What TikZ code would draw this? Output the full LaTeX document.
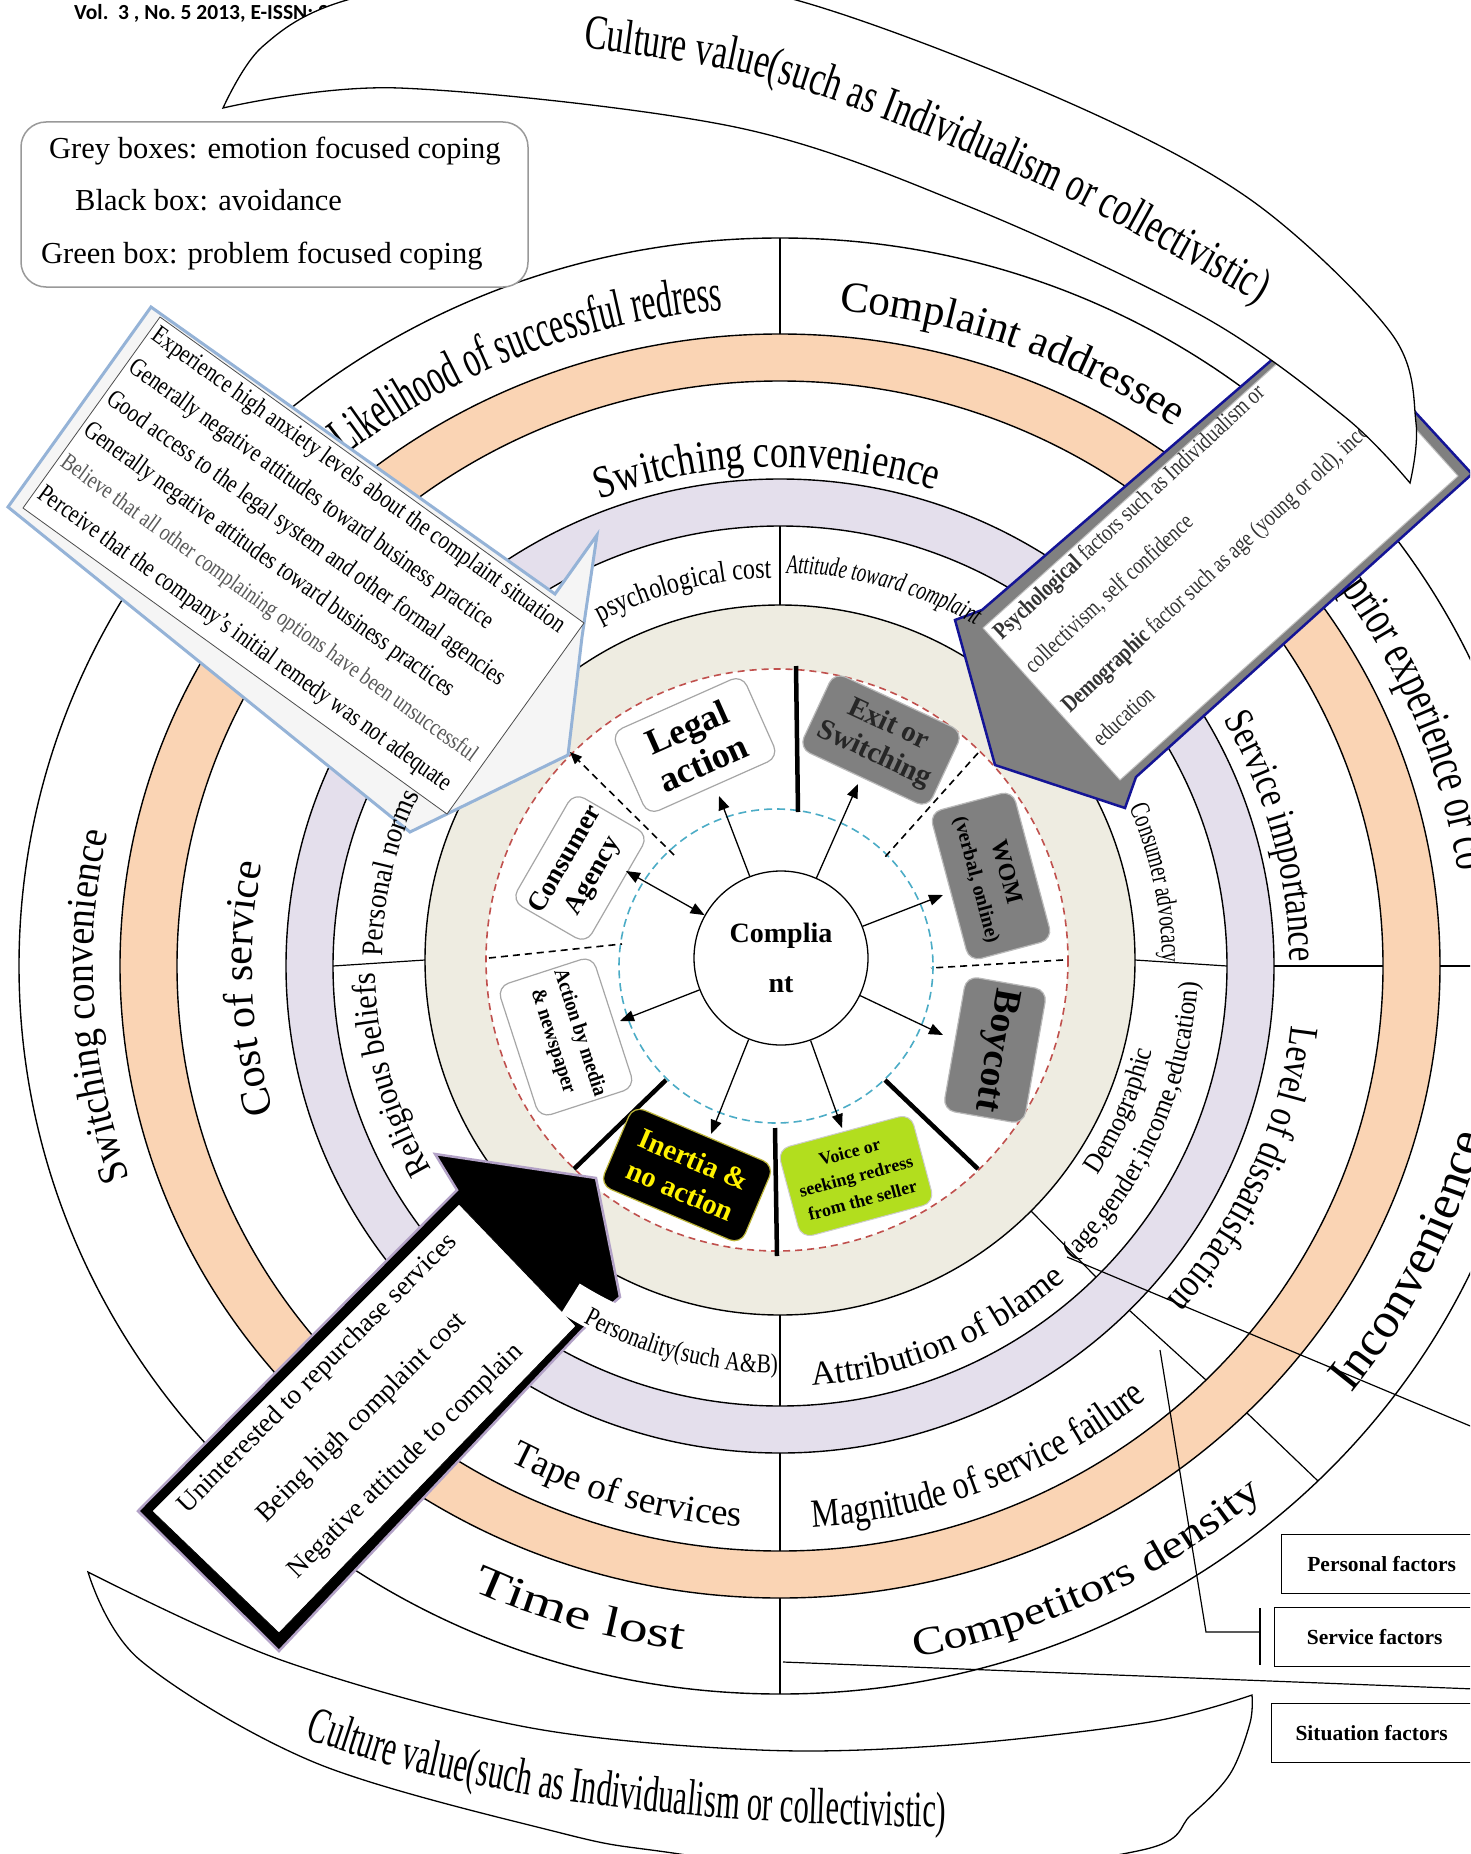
\documentclass[tikz,border=0pt]{standalone}
\usepackage{fontspec}
\setmainfont{Liberation Serif}
\newfontfamily\sr{Liberation Serif}
\newfontfamily\srA[FakeStretch=0.6]{Liberation Serif}
\newfontfamily\srB[FakeStretch=0.7]{Liberation Serif}
\newfontfamily\srC[FakeStretch=0.8]{Liberation Serif}
\newfontfamily\srD[FakeStretch=0.9]{Liberation Serif}
\newfontfamily\srE[FakeStretch=1.2]{Liberation Serif}
\newfontfamily\srF[FakeStretch=1.35]{Liberation Serif}
\newfontfamily\carl{Carlito}
\usetikzlibrary{arrows.meta,decorations.text}
\newcommand\fsz[1]{\fontsize{#1}{#1}\selectfont}
% cx cy a b t1 t2 align font text
\newcommand\arctext[9]{\path[decorate,decoration={text along path,text align=#7,text={|#8|#9}}] plot[domain=#5:#6,samples=90,variable=\t] ({#1+#3*cos(\t)},{#2-#4*sin(\t)});}
% white annular sector: cx cy r1 r2 t1 t2
\newcommand\whitesector[6]{\fill[white] plot[domain=#5:#6,samples=30,variable=\t] ({#1+#3*cos(\t)},{#2-#3*sin(\t)}) -- plot[domain=#6:#5,samples=30,variable=\t] ({#1+#4*cos(\t)},{#2-#4*sin(\t)}) -- cycle;}
\definecolor{peach}{RGB}{250,212,180}
\definecolor{lav}{RGB}{228,223,236}
\definecolor{beige}{RGB}{238,236,225}
\definecolor{reddash}{RGB}{192,80,77}
\definecolor{bluedash}{RGB}{75,172,198}
\definecolor{boxgrey}{RGB}{128,128,128}
\definecolor{lime}{RGB}{178,222,30}
\definecolor{navy}{RGB}{20,20,150}
\definecolor{callblue}{RGB}{149,179,215}
\definecolor{lavb}{RGB}{179,162,199}
\begin{document}
\begin{tikzpicture}[x=1pt,y=-1pt,
  ring/.style={line width=1.4pt},
  div/.style={line width=1.2pt},
  arr/.style={line width=1.3pt,-{Triangle[length=14pt,width=11pt]}},
  darr/.style={line width=1.3pt,{Triangle[length=14pt,width=11pt]}-{Triangle[length=14pt,width=11pt]}},
  whitebox/.style={draw=gray!70,fill=white,line width=1.2pt,rounded corners=12pt,inner sep=0pt},
  greybox/.style={draw=gray!55,fill=boxgrey,line width=1.2pt,rounded corners=12pt,inner sep=0pt},
  thickdiv/.style={line width=4.5pt},
  dashdiv/.style={line width=1.6pt,dash pattern=on 7pt off 5pt},
  fbox/.style={draw,line width=1.3pt,minimum width=200pt,minimum height=59pt,anchor=north west,font=\sr\bfseries\fsz{21.5}},
  plain/.style={inner sep=0pt}]
\useasboundingbox (0,0) rectangle (1470,1854);
\clip (0,0) rectangle (1470,1854);
\fill[white] (0,0) rectangle (1470,1854);

% header (partly covered by the top arrow)
\node[plain,anchor=base west,font=\carl\bfseries\fsz{21.5}] (hdr) at (74,20) {Vol.\ \ 3 , No.\ 5 2013, E-ISSN: 22};

% rings
\filldraw[ring,fill=white] (780,966) ellipse [x radius=761, y radius=728];
\filldraw[ring,fill=peach] (780,966) ellipse [x radius=660, y radius=632];
\filldraw[ring,fill=white] (780,966) ellipse [x radius=603, y radius=585];
\filldraw[ring,fill=lav] (780,966) ellipse [x radius=494, y radius=487];
\filldraw[ring,fill=white] (780,966) ellipse [x radius=447, y radius=440];
\filldraw[ring,fill=beige] (780,960) circle [radius=355];

% ring dividers
\draw[div] (780,605)--(780,526);
\draw[div] (1135,960)--(1227,966);
\draw[div] (1031,1211)--(1096,1277);
\draw[div] (780,1315)--(780,1406);
\draw[div] (425,960)--(333,966);
\draw[div] (1274,966)--(1383,966);
\draw[div] (1129,1310)--(1206,1380);
\draw[div] (780,1453)--(780,1551);
\draw[div] (780,334)--(780,238);
\draw[div] (1440,966)--(1541,966);
\draw[div] (1247,1413)--(1318,1481);
\draw[div] (780,1598)--(780,1694);

% outer ring labels
\arctext{780}{966}{688}{658}{134}{90}{center}{\srA\fsz{53}}{Likelihood of successful redress}
\arctext{780}{966}{688}{658}{88}{52}{center}{\sr\fsz{43}}{Complaint addressee}
\arctext{780}{966}{685}{656}{35}{-30}{left}{\srB\fsz{50}}{prior experience or co}
\arctext{780}{966}{725}{694}{-38}{10}{left}{\sr\fsz{50}}{Inconvenience}
\arctext{780}{966}{735}{703}{-92}{-36}{center}{\srE\fsz{40}}{Competitors density}
\arctext{780}{966}{722}{690}{-124}{-89}{center}{\srF\fsz{43}}{Time lost}
\arctext{780}{966}{687}{657}{205}{162}{center}{\srD\fsz{42}}{Switching convenience}
% middle ring labels
\arctext{780}{966}{512}{499}{118}{65}{center}{\srC\fsz{46}}{Switching convenience}
\arctext{780}{966}{510}{500}{38}{-8}{center}{\srC\fsz{41}}{Service importance}
\arctext{780}{966}{515}{505}{3}{-51}{center}{\srC\fsz{41}}{Level of dissatisfaction}
\arctext{780}{966}{575}{562}{-95}{-42}{center}{\srC\fsz{40}}{Magnitude of service failure}
\arctext{780}{966}{575}{562}{-124}{-88}{center}{\sr\fsz{37}}{Tape of services}
\arctext{780}{966}{528}{520}{200}{165}{center}{\sr\fsz{42}}{Cost of service}
% inner ring labels
\arctext{780}{963}{385}{385}{123}{86}{center}{\srC\fsz{30}}{psychological cost}
\arctext{780}{963}{382}{382}{30}{-6}{center}{\srB\fsz{28}}{Consumer advocacy}
\arctext{780}{963}{382}{382}{-44}{-3}{center}{\srD\fsz{28}}{Demographic}
\arctext{780}{963}{418}{418}{-47}{-1}{center}{\srD\fsz{28}}{(age,gender,income,education)}
\arctext{780}{963}{430}{424}{-95}{-39}{center}{\sr\fsz{34}}{Attribution of blame}
\arctext{780}{963}{405}{405}{216}{176}{center}{\srD\fsz{34}}{Religious beliefs}

% inner disc
\filldraw[fill=white,draw=reddash,dashdiv] (777,960) circle [radius=291];
\draw[draw=bluedash,line width=1.6pt,dash pattern=on 8pt off 5pt] (776,966) circle [radius=157];
\draw[thickdiv] (796,666)--(798,812);
\draw[dashdiv] (978,753)--(885,857);
\draw[dashdiv] (1063,960)--(931,968);
\draw[thickdiv] (978,1169)--(885,1080);
\draw[thickdiv] (775,1128)--(777,1256);
\draw[thickdiv] (666,1080)--(574,1169);
\draw[dashdiv] (489,958)--(622,944);
\draw[dashdiv,-{Triangle[length=12pt,width=10pt]}] (674,855)--(570,752);

% coping boxes
\node[whitebox,minimum width=143pt,minimum height=90pt,rotate=24,align=center,font=\sr\bfseries\fontsize{36}{39}\selectfont] (legal) at (695,745) {Legal\\action};
\node[greybox,minimum width=142pt,minimum height=84pt,rotate=-25,align=center,text=black!85,font=\sr\bfseries\fontsize{29}{33}\selectfont] (exit) at (881,740) {Exit or\\Switching};
\node[greybox,minimum width=154pt,minimum height=86pt,rotate=-75,align=center,font=\sr\bfseries\fontsize{20}{30}\selectfont] (wom) at (991,876) {{\fsz{24}WOM}\\(verbal, online)};
\node[greybox,minimum width=136pt,minimum height=82pt,rotate=-100,font=\sr\bfseries\fsz{38}] (boycott) at (995,1050) {Boycott};
\node[draw=gray!40,fill=lime,line width=1pt,rounded corners=12pt,minimum width=138pt,minimum height=92pt,rotate=15,align=center,inner sep=0pt,font=\sr\bfseries\fontsize{18}{25}\selectfont] (voice) at (856,1176) {Voice or\\seeking redress\\from the seller};
\node[draw=yellow!70!black,fill=black,line width=1.2pt,rounded corners=12pt,minimum width=153pt,minimum height=86pt,rotate=-23,align=center,inner sep=0pt,text=yellow,font=\sr\bfseries\fontsize{29}{34}\selectfont] (inertia) at (687,1175) {Inertia \&\\no action};
\node[whitebox,minimum width=138pt,minimum height=100pt,rotate=-72,align=center,font=\srD\bfseries\fontsize{21}{28}\selectfont] (media) at (566,1037) {Action by media\\\& newspaper};
\node[whitebox,minimum width=125pt,minimum height=86pt,rotate=60,align=center,font=\sr\bfseries\fontsize{27}{32}\selectfont] (agency) at (580,868) {Consumer\\Agency};

% centre
\node[circle,draw,line width=1.3pt,fill=white,minimum size=174pt,inner sep=0pt,align=center,font=\sr\bfseries\fontsize{28}{50}\selectfont] (cc) at (781,958) {Complia\\nt};
\coordinate (tLegal) at (719,796);
\coordinate (tExit) at (858,784);
\coordinate (tWom) at (943,895);
\coordinate (tBoy) at (943,1035);
\coordinate (tVoice) at (842,1128);
\coordinate (tInert) at (711,1134);
\coordinate (tMedia) at (620,1021);
\coordinate (tAgency) at (626,871);
\draw[arr] (cc)--(tLegal);
\draw[arr] (cc)--(tExit);
\draw[arr] (cc)--(tWom);
\draw[arr] (cc)--(tBoy);
\draw[arr] (cc)--(tVoice);
\draw[arr] (cc)--(tInert);
\draw[arr] (cc)--(tMedia);
\draw[darr] (cc)--(tAgency);

% factor connectors and boxes
\coordinate (pa) at (1067,1257); \coordinate (pb) at (1475,1428);
\draw[line width=1.2pt] (pa)--(pb);
\coordinate (sa) at (1160,1350); \coordinate (sb) at (1206,1632); \coordinate (sc) at (1260,1632);
\draw[line width=1.2pt] (sa)--(sb)--(sc);
\coordinate (sd) at (1260,1608); \coordinate (se) at (1260,1665);
\draw[line width=1.2pt] (sd)--(se);
\coordinate (ta) at (783,1662); \coordinate (tb) at (1475,1689);
\draw[line width=1.2pt] (ta)--(tb);
\node[fbox] (pf) at (1281,1534) {Personal factors};
\node[fbox] (sf) at (1274,1607) {Service factors};
\node[fbox] (tf) at (1271,1703) {Situation factors};

% left callout
\draw[fill=gray!8,draw=callblue,line width=3pt,line join=miter] (151,307)--(555,594)--(597,535)--(582,637)--(568,755)--(410,832)--(8,507)--cycle;
\draw[fill=white,draw=gray!60!black,line width=0.8pt] (160,317)--(584,623)--(447,814)--(23,508)--cycle;
\node[rotate=-35.8,anchor=north west,inner sep=5pt,align=left,font=\srC\fontsize{26}{39}\selectfont] (lefttext) at (160,317) {Experience high anxiety levels about the complaint situation\\Generally negative attitudes toward business practice\\Good access to the legal system and other formal agencies\\Generally negative attitudes toward business practices\\{\color{black!65}\fontsize{24}{39}\selectfont Believe that all other complaining options have been unsuccessful}\\Perceive that the company’s initial remedy was not adequate};

% right callout
\draw[fill=boxgrey,draw=navy,line width=2.5pt,line join=miter] (1325,314)--(1472,474)--(1136,777)--(1125,808)--(995,765)--(955,620)--(982,610)--cycle;
\draw[fill=white,draw=gray!50,line width=1pt] (1321,324)--(1458,476)--(1120,780)--(983,628)--cycle;
\node[rotate=43,anchor=north west,inner sep=5pt,align=left,text=black!80,font=\srC\fontsize{24}{46}\selectfont] (righttext) at (983,628) {\textbf{Psychological} factors such as Individualism or\\collectivism, self confidence\\[8pt]\textbf{Demographic} factor such as age (young or old), income,\\education};

% black callout
\draw[fill=black,draw=lavb,line width=2.5pt,line join=miter] (138,1511)--(457,1190)--(435,1154)--(596,1178)--(620,1297)--(582,1330)--(279,1651)--cycle;
\draw[fill=white,draw=black,line width=0.8pt] (152,1511)--(459,1204)--(576,1326)--(279,1633)--cycle;
\node[rotate=45,align=center,font=\sr\fontsize{27}{62}\selectfont] (blacktext) at (362,1418) {Uninterested to repurchase services\\Being high complaint cost\\Negative attitude to complain};

% labels lying in front of the callouts
\whitesector{780}{963}{378}{413}{-122}{-100}
\arctext{780}{963}{410}{410}{-125}{-84}{center}{\srC\fsz{27}}{Personality(such A{\&}B)}
\arctext{780}{963}{390}{390}{93}{56}{center}{\srB\itshape\fsz{27}}{Attitude toward complaint}
\arctext{780}{963}{398}{398}{184}{150}{center}{\srD\fsz{30}}{Personal norms}

% top curved arrow
\draw[fill=white,line width=1.3pt] plot[smooth,tension=0.55] coordinates {(223,108) (262,47) (347,0) (560,-40) (796,0) (1063,100) (1251,200) (1391,333) (1416,423) (1410,483)} -- plot[smooth,tension=0.55] coordinates {(1410,483) (1345,417) (1204,317) (970,207) (735,127) (399,88) (223,108)} -- cycle;
\path[decorate,decoration={text along path,text align=left,text={|\srB\fsz{49}|Culture value(such as Individualism or collectivistic)}}] plot[smooth] coordinates {(583,48) (740,72) (890,121) (1059,194) (1170,253) (1290,322) (1380,390)};

% bottom curved arrow
\draw[fill=white,line width=1.3pt] plot[smooth,tension=0.55] coordinates {(88,1572) (140,1660) (316,1763) (561,1833) (666,1852) (900,1880) (1142,1850) (1191,1815) (1230,1774) (1250,1723) (1252,1695)} -- plot[smooth,tension=0.55] coordinates {(1252,1695) (1150,1722) (950,1745) (760,1750) (526,1727) (281,1660) (88,1572)} -- cycle;
\path[decorate,decoration={text along path,text align=left,text={|\srA\fsz{51}|Culture value(such as Individualism or collectivistic)}}] plot[smooth] coordinates {(305,1738) (400,1768) (560,1800) (750,1820) (960,1828) (1060,1829)};

% legend
\draw[rounded corners=25pt,line width=1.5pt,draw=gray!80,fill=white] (21,122) rectangle (528,287);
\node[plain,anchor=base west,font=\sr\fsz{30.5}] (lg1) at (49,159) {Grey boxes: emotion focused coping};
\node[plain,anchor=base west,font=\sr\fsz{30.5}] (lg2) at (75,211) {Black box: avoidance};
\node[plain,anchor=base west,font=\sr\fsz{30.5}] (lg3) at (41,263) {Green box: problem focused coping};
\end{tikzpicture}
\end{document}
